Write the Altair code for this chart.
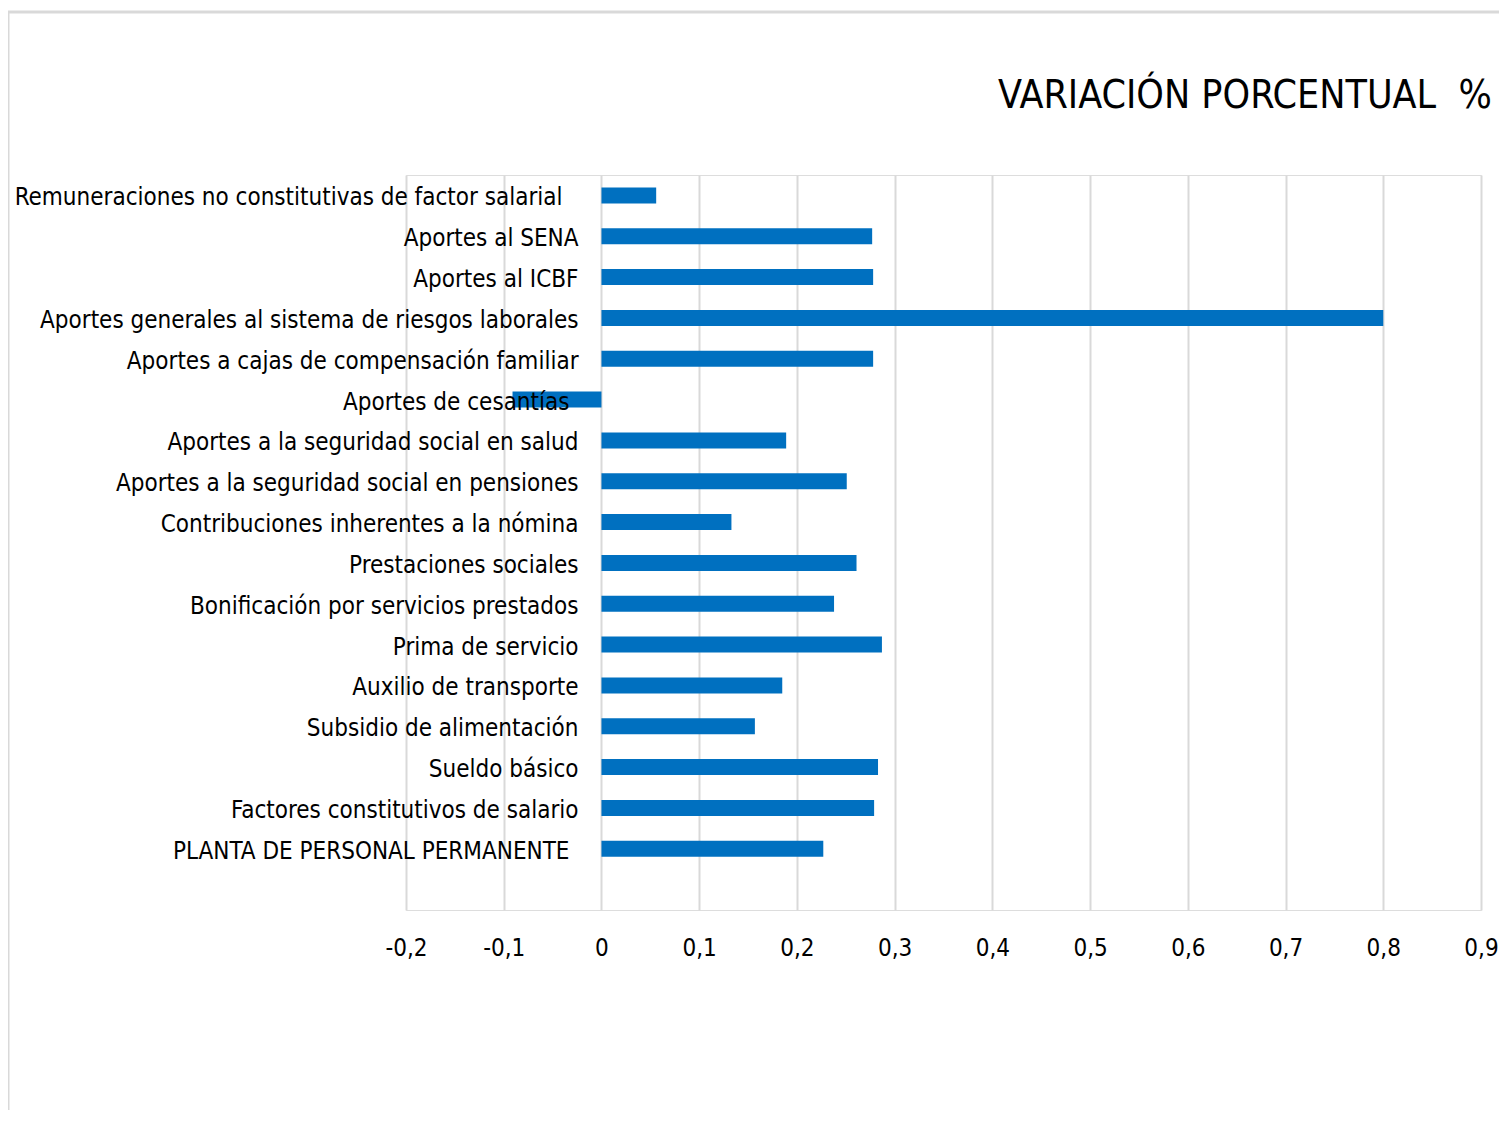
import altair as alt
import pandas as pd

categories = [
    "Remuneraciones no constitutivas de factor salarial",
    "Aportes al SENA",
    "Aportes al ICBF",
    "Aportes generales al sistema de riesgos laborales",
    "Aportes a cajas de compensación familiar",
    "Aportes de cesantías",
    "Aportes a la seguridad social en salud",
    "Aportes a la seguridad social en pensiones",
    "Contribuciones inherentes a la nómina",
    "Prestaciones sociales",
    "Bonificación por servicios prestados",
    "Prima de servicio",
    "Auxilio de transporte",
    "Subsidio de alimentación",
    "Sueldo básico",
    "Factores constitutivos de salario",
    "PLANTA DE PERSONAL PERMANENTE",
]
values = [0.056, 0.277, 0.278, 0.800, 0.278, -0.091, 0.189, 0.251, 0.133,
          0.261, 0.238, 0.287, 0.185, 0.157, 0.283, 0.279, 0.227]
tick_values = [-0.2, -0.1, 0, 0.1, 0.2, 0.3, 0.4, 0.5, 0.6, 0.7, 0.8, 0.9]
title_text = "VARIACIÓN PORCENTUAL\u00a0\u00a0%"

FONT = "DejaVu Sans Condensed"
W, H = 1075, 735

df = pd.DataFrame({"cat": categories, "val": values})
y_domain = categories + [" "]

pad_expr = (
    "datum.value == 'Remuneraciones no constitutivas de factor salarial' ? 39 : "
    "(datum.value == 'Aportes de cesantías' || datum.value == 'PLANTA DE PERSONAL PERMANENTE') ? 32 : 23"
)

bars = alt.Chart(df).mark_bar(size=16, color="#0070C0").encode(
    x=alt.X("val:Q",
            scale=alt.Scale(domain=[-0.2, 0.9], nice=False, zero=False),
            axis=alt.Axis(values=tick_values, title=None, grid=True,
                          gridColor="#d9d9d9", gridWidth=2, ticks=False,
                          domain=False, labelFont=FONT, labelFontSize=24,
                          labelColor="#000000", labelPadding=26,
                          labelFlush=False, labelOverlap=False,
                          labelExpr="replace(replace(format(datum.value, '.1~f'), '.', ','), '\u2212', '-')")),
    y=alt.Y("cat:N",
            scale=alt.Scale(domain=y_domain, paddingInner=0, paddingOuter=0),
            sort=y_domain,
            axis=alt.Axis(title=None, ticks=False, domain=False, grid=False,
                          offset=-195, labelPadding=alt.ExprRef(pad_expr),
                          labelLimit=2000, labelOffset=3,
                          labelFont=FONT, labelFontSize=24, labelColor="#000000",
                          zindex=2)),
)

frame_df = pd.DataFrame({"k": [0]})
left_border = alt.Chart(frame_df).mark_rule(color="#d9d9d9", strokeWidth=3).encode(
    x=alt.value(-398), y=alt.value(-163), y2=alt.value(H + 220))
top_border = alt.Chart(frame_df).mark_rule(color="#d9d9d9", strokeWidth=3).encode(
    x=alt.value(-398), x2=alt.value(W + 40), y=alt.value(-163))

title_df = pd.DataFrame({"t": [title_text]})
title = alt.Chart(title_df).mark_text(
    font=FONT, fontSize=39, color="#000000", align="left", baseline="alphabetic"
).encode(text="t:N", x=alt.value(592), y=alt.value(-67))

chart = alt.layer(left_border, top_border, bars, title).properties(
    width=W, height=H,
    autosize=alt.AutoSizeParams(type="none"),
    padding={"left": 398, "top": 167, "right": 18, "bottom": 200},
).configure_view(stroke="transparent", strokeWidth=0).configure(background="white")

chart.save("out.html", embed_options={"renderer": "svg", "actions": False})
